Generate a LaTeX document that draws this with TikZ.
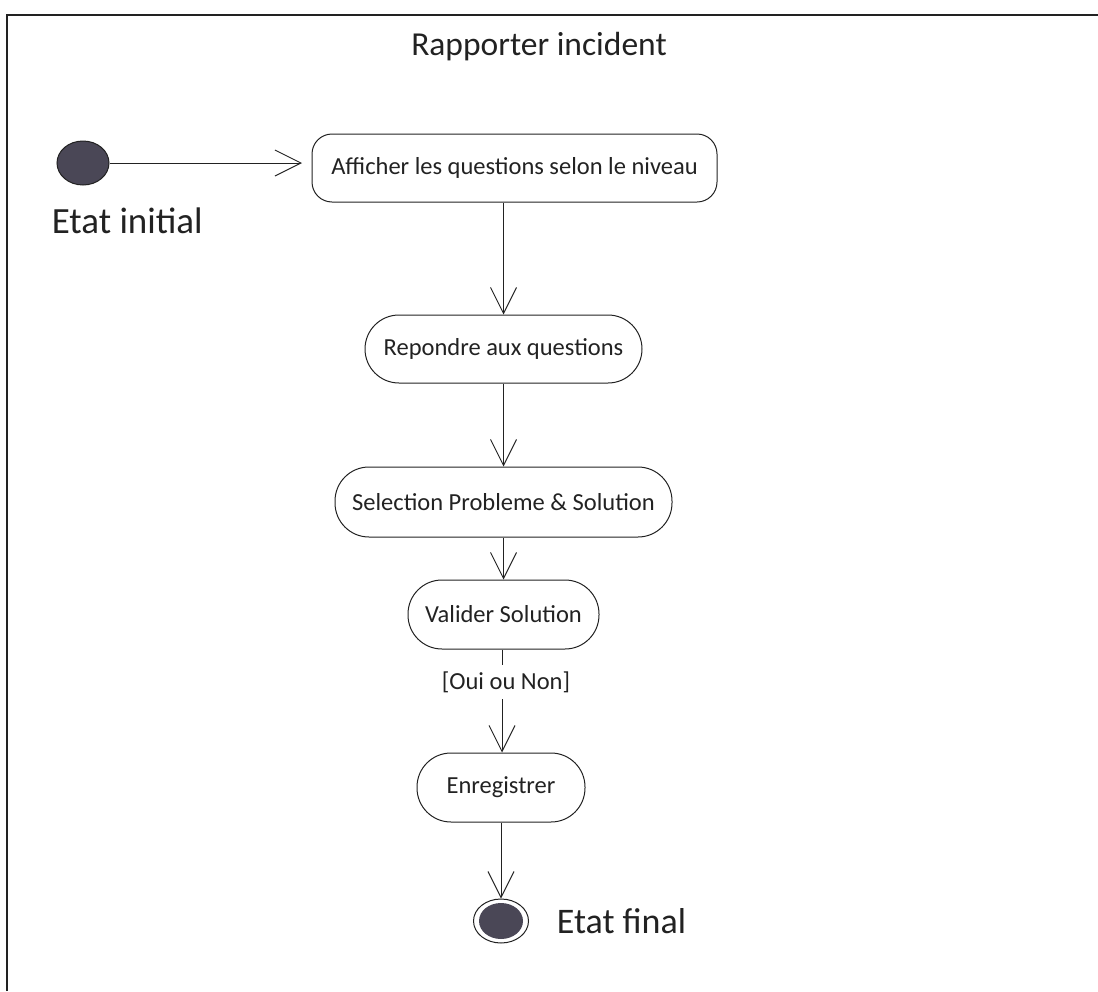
\documentclass[tikz,border=0pt]{standalone}
\usepackage{fontspec}
\setmainfont{Carlito}
\usetikzlibrary{arrows.meta,shapes.geometric}
\definecolor{ink}{HTML}{222222}
\definecolor{dot}{HTML}{4A4756}
\begin{document}
\begin{tikzpicture}[x=1pt,y=-1pt,
  line width=1pt, draw=ink, text=ink,
  act/.style={draw, rounded corners=34pt, align=center, inner sep=0pt,
    font=\fontsize{24.5}{28}\selectfont},
  arr/.style={-{Straight Barb[length=26pt,width=26pt,line width=1pt]}},
  lbl/.style={font=\fontsize{37}{44}\selectfont}]
\useasboundingbox (0,0) rectangle (1098,991);
% frame
\draw[line width=1.3pt] (7,991) -- (7,15) -- (1098,15);
% title
\node[font=\fontsize{33.5}{40}\selectfont] (title) at (539,47) {Rapporter incident};
% start state
\node[ellipse, fill=dot, draw=ink, minimum width=52pt, minimum height=44pt, inner sep=0pt] (start) at (83,163) {};
\node[lbl, anchor=west] (lstart) at (48,221) {Etat initial};
% activities
\node[act, rounded corners=20pt, minimum width=405pt, minimum height=68pt] (n1) at (514.5,168) {Afficher les questions selon le niveau};
\node[act, minimum width=277pt, minimum height=68pt] (n2) at (503.5,349) {Repondre aux questions};
\node[act, minimum width=337pt, minimum height=70pt] (n3) at (503.5,502) {Selection Probleme \& Solution};
\node[act, minimum width=191pt, minimum height=69pt] (n4) at (503.5,614.5) {Valider Solution};
\node[act, minimum width=168pt, minimum height=69pt] (n5) at (501,787.5) {Enregistrer};
\node[font=\fontsize{24.5}{28}\selectfont, inner sep=3pt] (guard) at (506,682) {[Oui ou Non]};
% final state
\node[ellipse, draw=ink, minimum width=55pt, minimum height=44pt, inner sep=0pt] (final) at (501,921) {};
\node[ellipse, fill=dot, minimum width=44pt, minimum height=36pt, inner sep=0pt] (finaldot) at (final.center) {};
\node[lbl, font=\fontsize{36}{42}\selectfont, anchor=west] (lfinal) at (553,921) {Etat final};
% transitions
\coordinate (e1) at (302,163);
\coordinate (g1) at (502,665);
\coordinate (g2) at (502,699);
\draw[arr, line width=0.8pt] (start.east) -- (e1);
\draw[arr] (n1.south -| n2.north) -- (n2.north);
\draw[arr] (n2.south) -- (n3.north);
\draw[arr] (n3.south) -- (n4.north);
\draw (n4.south -| g1) -- (g1);
\draw[arr] (g2) -- (g2 |- n5.north);
\draw[arr] (n5.south) -- (final.north);
\end{tikzpicture}
\end{document}
